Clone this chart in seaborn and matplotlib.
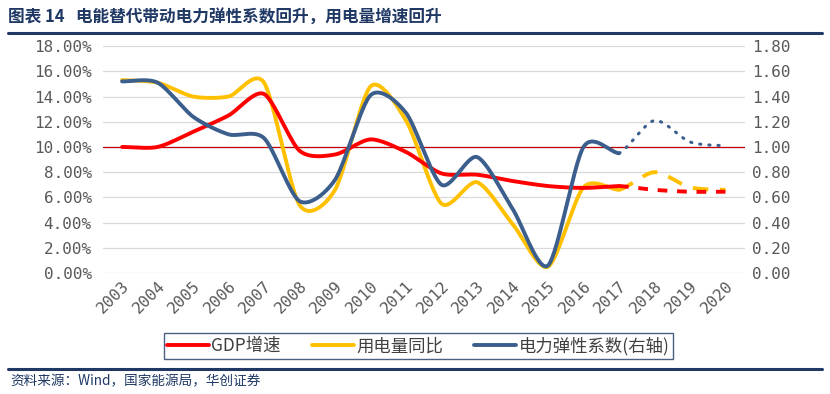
import numpy as np
import pandas as pd
import matplotlib.pyplot as plt
import seaborn as sns
from matplotlib.lines import Line2D

# data
years = list(range(2003, 2021))
gdp_actual = [10.0, 10.0, 11.2, 12.5, 14.2, 9.7, 9.4, 10.6, 9.6, 7.9, 7.8, 7.3, 6.9, 6.75, 6.9]
gdp_forecast = [6.9, 6.6, 6.45, 6.45]
elec_actual = [15.3, 15.1, 14.0, 14.0, 15.1, 5.4, 6.6, 14.8, 12.1, 5.5, 7.2, 3.9, 0.5, 6.8, 6.6]
elec_forecast = [6.6, 8.0, 6.8, 6.6]
elas_actual = [1.52, 1.51, 1.24, 1.10, 1.07, 0.57, 0.74, 1.41, 1.27, 0.70, 0.92, 0.51, 0.06, 1.0, 0.95]
elas_forecast = [0.95, 1.21, 1.04, 1.01]

actual_years = years[:15]
forecast_years = years[14:]

navy = '#1F3864'
red = '#FF0000'
yellow = '#FFC000'
blue = '#3B5E8C'


def smooth(xs, ys, n=30, k=7.5):
    # excel style smoothed line (bezier through the points)
    xs = np.asarray(xs, float)
    ys = np.asarray(ys, float)
    px = np.concatenate([[2 * xs[0] - xs[1]], xs, [2 * xs[-1] - xs[-2]]])
    py = np.concatenate([[ys[0]], ys, [ys[-1]]])
    out_x, out_y = [], []
    for i in range(1, len(px) - 2):
        t = np.linspace(0, 1, n, endpoint=False)
        for arr, out in ((px, out_x), (py, out_y)):
            p0, p1, p2, p3 = arr[i - 1], arr[i], arr[i + 1], arr[i + 2]
            c1 = p1 + (p2 - p0) / k
            c2 = p2 - (p3 - p1) / k
            out.extend((1 - t) ** 3 * p1 + 3 * (1 - t) ** 2 * t * c1
                       + 3 * (1 - t) * t ** 2 * c2 + t ** 3 * p2)
    out_x.append(xs[-1])
    out_y.append(ys[-1])
    return pd.DataFrame({'x': out_x, 'y': out_y})


sns.set_style('white')
plt.rcParams['font.family'] = ['Noto Sans CJK SC', 'DejaVu Sans']

fig = plt.figure(figsize=(8.3, 3.94), dpi=100)
ax = fig.add_axes([0.124, 0.307, 0.774, 0.576])
ax2 = ax.twinx()

for v in np.arange(0, 19, 2):
    ax.axhline(v, color='#D9D9D9', lw=0.9, zorder=0)
ax.axhline(10, color='#C00000', lw=0.9, zorder=1)

lw = 2.8
sns.lineplot(data=smooth(actual_years, gdp_actual), x='x', y='y', ax=ax,
             color=red, lw=lw, sort=False, estimator=None, zorder=3)
sns.lineplot(data=smooth(forecast_years, gdp_forecast), x='x', y='y', ax=ax,
             color=red, lw=lw, sort=False, estimator=None, dashes=(2.5, 2.5), zorder=3)
sns.lineplot(data=smooth(actual_years, elec_actual), x='x', y='y', ax=ax,
             color=yellow, lw=lw, sort=False, estimator=None, zorder=2)
sns.lineplot(data=smooth(forecast_years, elec_forecast), x='x', y='y', ax=ax,
             color=yellow, lw=lw, sort=False, estimator=None, dashes=(4, 3), zorder=2)
sns.lineplot(data=smooth(actual_years, elas_actual), x='x', y='y', ax=ax2,
             color=blue, lw=lw, sort=False, estimator=None, zorder=4)
sns.lineplot(data=smooth(forecast_years, elas_forecast), x='x', y='y', ax=ax2,
             color=blue, lw=2.2, sort=False, estimator=None, dashes=(0.4, 2.6),
             dash_capstyle='round', zorder=4)

ax.set_xlim(2002.46, 2020.56)
ax.set_ylim(0, 18)
ax2.set_ylim(0, 1.8)
ax.set_xticks(years)
ax.set_xticklabels([str(y) for y in years], rotation=45, ha='right',
                   rotation_mode='anchor')
ax.set_yticks(np.arange(0, 19, 2))
ax.set_yticklabels([f'{v:.2f}%' for v in np.arange(0, 19, 2)])
ax2.set_yticks(np.arange(0, 1.81, 0.2))
ax2.set_yticklabels([f'{v:.2f}' for v in np.arange(0, 1.81, 0.2)])
for a in (ax, ax2):
    a.set_xlabel('')
    a.set_ylabel('')
    for s in a.spines.values():
        s.set_visible(False)
    a.tick_params(length=0, colors='#595959', labelsize=11.5)
    for lab in a.get_xticklabels() + a.get_yticklabels():
        lab.set_family('DejaVu Sans Mono')
ax.tick_params(axis='y', pad=8)
ax2.tick_params(axis='y', pad=5)
ax.tick_params(axis='x', pad=4)

# legend
handles = [Line2D([], [], color=red, lw=2.8),
           Line2D([], [], color=yellow, lw=2.8),
           Line2D([], [], color=blue, lw=2.8)]
labels = ['GDP增速', '用电量同比', '电力弹性系数(右轴)']
leg = fig.legend(handles, labels, loc='center', bbox_to_anchor=(0.504, 0.122),
                 ncol=3, frameon=True, fancybox=False, fontsize=12.5,
                 handlelength=2.4, handletextpad=0.15, columnspacing=1.8,
                 borderpad=0.2, borderaxespad=0)
leg.get_frame().set_edgecolor(navy)
leg.get_frame().set_linewidth(1.0)
for t in leg.get_texts():
    t.set_color('#404040')

# title, rules and source
fig.text(0.01, 0.955, '图表 14   电能替代带动电力弹性系数回升，用电量增速回升',
         color=navy, fontsize=12, fontweight='bold', va='center')
fig.add_artist(Line2D([0.01, 0.99], [0.915, 0.915], color=navy, lw=2.2))
fig.add_artist(Line2D([0.01, 0.99], [0.063, 0.063], color=navy, lw=2.2))
fig.text(0.012, 0.032, '资料来源：Wind，国家能源局，华创证券', color=navy,
         fontsize=9.8, style='italic', va='center')

fig.savefig('out.png', dpi=100)
